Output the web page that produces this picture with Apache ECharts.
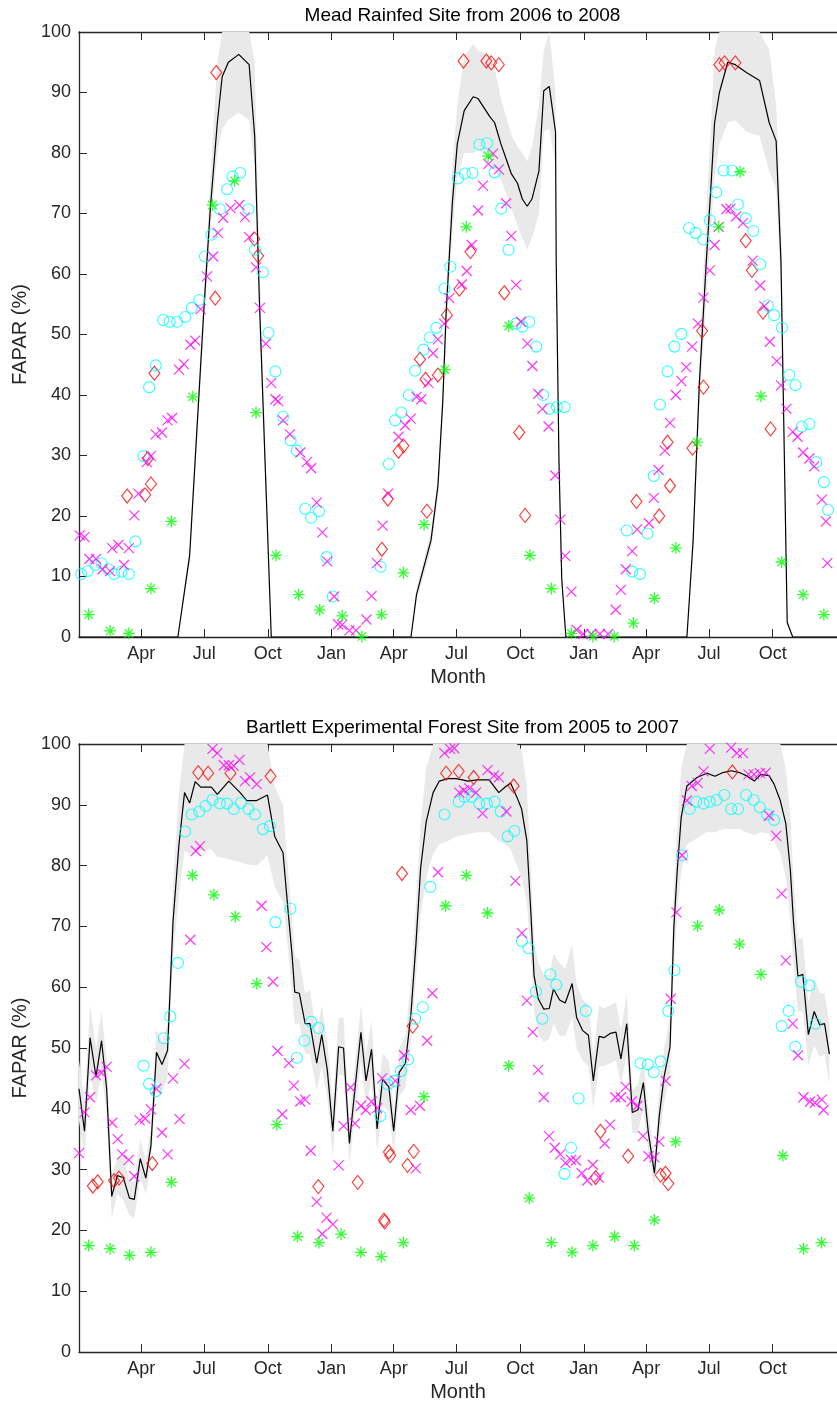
<!DOCTYPE html>
<html>
<head>
<meta charset="utf-8">
<script src="https://cdn.jsdelivr.net/npm/echarts@6/dist/echarts.min.js"></script>
<style>html,body{margin:0;padding:0;background:#fff}#c{width:837px;height:1404px}</style>
</head>
<body>
<div id="c"></div>
<script>
// ---- tick labels (day counted from Jan 1 of the first year) ----
const tickDays = [90, 181, 273, 365, 455, 546, 638, 730, 820, 911, 1003];
const tickLabels = ['Apr', 'Jul', 'Oct', 'Jan', 'Apr', 'Jul', 'Oct', 'Jan', 'Apr', 'Jul', 'Oct'];
const yTicks = [0, 10, 20, 30, 40, 50, 60, 70, 80, 90, 100];
const titles = ['Mead Rainfed Site from 2006 to 2008', 'Bartlett Experimental Forest Site from 2005 to 2007'];

// ---- Mead: black line and grey envelope ----
const meadLineDay = [0,143,160,181,190,200,207,216,231,246,254,261,271,278,
  480,488,509,519,526,531,535,540,547,557,570,577,594,601,610,625,634,641,648,655,665,672,680,689,690,694,698,704,
  879,888,897,907,914,919,926,938,949,965,984,998,1008,1015,1020,1024,1032,1096];
const meadLineVal = [0,0,13.5,55,71,85,92.6,95,96.3,94.6,82.8,55,22.7,0,
  0,7,16,25,39,54,62,72,81.5,87,89.3,89,86,85,81.5,76.6,75,72.4,71.2,72.4,77,90.3,91,83.5,62,29,9.6,0,
  0,16,42,62,75,85,90,95,94.6,93.3,92,85,82,62,29,2.4,0,0];
const meadBandLo = [0,0,12,52,67,80,84,85.5,86.7,85.4,78,52,20,0,
  0,6,14.5,23,36,50,58,67,76,80,80,80.5,79,77,75.6,71,68,66,64,66,70,83.5,84,78,58,27,8.5,0,
  0,14,38,56,68,76,81.5,85,85.4,83.5,82.8,77,74,58,27,2,0,0];
const meadBandHi = [0,0,15,58,76,95,100,100,100,100,95,62,26,0,
  0,8,17.5,27,42,58,67,78,88,96,98,97,96,94,89,83,81,80,78.6,81,88,97,100,90,68,32,11,0,
  0,18,46,70,85,97,100,100,100,100,100,97,88,70,32,3,0,0];

// ---- Mead: markers [day, FAPAR] ----
const meadDiamond = [[69.6,23.3],[95.7,23.5],[104,25.3],[99.5,29.5],[109,43.6],[198.5,93.3],[197,56],[253.5,65.8],[259,63],
  [438,14.5],[446.5,22.8],[462,30.7],[469,31.6],[493,45.9],[501,42.6],[519,43.3],[532,53.2],[550,57.5],[503,20.8],[556,95.2],
  [589,95.2],[596,94.9],[607,94.6],[566,63.7],[615,56.9],[636.5,33.8],[645,20.1],[806,22.4],
  [839,20],[854.5,25],[851,32.2],[887,31.2],[903,41.3],[901,50.6],[926,94.6],[933.5,94.9],[949,94.9],[964,65.5],[973,60.6],[989,53.7],[1000,34.4]];
const meadCircle = [[3.3,10.4],[12.7,10.9],[23.6,11.9],[32.6,12.2],[42.6,11.2],[50.7,10.4],[61.6,10.8],[72,10.4],[81.5,15.8],[93.3,29.9],[101.4,41.3],[111,44.9],[121.8,52.4],[131,52.1],[142,52.1],[153.5,52.9],[163,54.4],[174,55.7],[182,62.9],[191.4,66.5],[203.8,70.7],[214,74],[222,76.1],[233,76.7],[245,70.7],[254.5,64],[266,60.3],[274,50.3],[284,43.9],
  [295,36.4],[306,32.5],[315,30.8],[327,21.2],[335.6,19.7],[347,20.8],[358,13.2],[367,6.7],[436,11.6],[448,28.6],[457,35.8],[466,37.1],[477,40],[486,44],[498,47.5],[507,49.5],[516.6,51.1],[528.4,57.6],[537,61.2],[548,75.8],
  [558,76.6],[569,76.7],[579,81.4],[590,81.6],[601,76.8],[610.5,70.8],[621,64],[632,51.8],[641,51.3],[651,52.1],[661,48],[671,40],[680,37.7],[691,38],[702,38],
  [792,17.6],[800,10.8],[811,10.4],[822,17.1],[831,26.6],[840,38.4],[851,43.9],[861,48],[871,50.1],[882,67.6],[891.4,66.8],[903,65.7],[912,68.9],[921.5,73.5],[932,77.1],[944.5,77.1],[952.7,71.5],[964,69.2],[975,67.1],[985,61.6],[996,54.8],[1005,53.2],[1016.5,51.1],[1027,43.3],[1036,41.6],[1045,34.8],[1056,35.2],[1066,28.9],[1077,25.6],[1083,21]];
const meadCross = [[1,16.8],[8,16.5],[15,12.9],[24.6,12.9],[34,11.2],[45,10.9],[48,14.7],[57,15.2],[65,11.9],[72,14.7],[80,20.1],[86,23.7],[98,28.9],[104,29.9],[111,33.5],[120,33.8],[128,35.8],[134.6,36.2],[144.5,44.2],[151.6,45.1],[161,48.3],[168,49],[176,54.2],[185,59.6],[194,62.9],[201,66.8],[208.5,69.3],[219,70.9],[232,71.4],[240,69.4],[246,66.1],[256,61.1],[261.6,54.4],[270,48.5],[278,42],[284,39.3],
  [288,39],[295,35.8],[305,33.5],[320,30.5],[329.5,28.9],[335.6,27.9],[343.7,22.2],[352,17.3],[359,12.5],[369,6.7],[374.5,2.1],[380.6,2],[391,1.1],[400.5,1.1],[415.7,2.9],[423,6.8],[431,12.2],[439,18.4],[447,23.7],[462,33.1],[471.6,35],[479.6,36.1],[488,39.7],[495,39.3],[505,42],[512,46.9],[519,49.2],[528,51.8],[535.5,56],
  [553.6,58.3],[560.7,60.5],[568,64.8],[577,70.5],[584,74.6],[592,78.2],[598.7,79.9],[607,77.3],[617.6,71.7],[625,66.3],[632,58.2],[639,52.1],[648.4,48.5],[655.5,44.8],[664,40.2],[670,37.7],[679,34.8],[688.7,26.7],[696,19.4],[703,13.4],[712,7.5],[719.5,1.2],[729,0.5],[741,0.5],[753,0.5],[765,0.5],[776,4.5],[783.5,7.8],[790.6,11.2],[800,14.2],[807,17.8],[824,18.8],[831,23],
  [838,27.6],[847,30.8],[854.5,35.4],[863,40],[871,42.3],[878,44.6],[886.6,48],[895,51.8],[903,56.1],[912,60.6],[919,64.8],[925,67.8],[936,70.7],[942,70.8],[950,69.5],[960,68.4],[974,62.2],[985,58.1],[991,54.7],[999,48.8],[1009,45.6],[1015,41.6],[1023,37.7],[1032,33.9],[1039,33.1],[1047,30.5],[1056,29.5],[1063,28.2],[1074,22.7],[1080,19.1],[1082,12.2]];
const meadStar = [[14,3.7],[45,1],[72,0.6],[104,8],[133.6,19.1],[164.4,39.7],[193,71.4],[225,75.4],[256,37.1],[285,13.5],[317.6,7],[348,4.5],[380.6,3.5],[409,0.1],[437.5,3.7],[469,10.6],[499,18.6],[529,44.2],[560,67.8],[591.5,79.5],[621.4,51.4],[652,13.5],[683,8],[712,0.6],[743,0.1],[774,0.1],[801.5,2.3],[832,6.4],[863,14.7],[894,32.2],[925,67.8],[956,76.9],[986,39.8],[1016,12.4],[1047,7],[1077,3.7]];

// ---- Bartlett: black line and grey envelope ----
const bartLineDay = [0,8,16,24.6,32.6,40,47.3,55.4,64,73,80,88.6,96.6,104,112,120,128,136,144.5,152.6,160,168,176,191.4,200,216.6,233,242.6,257,272.5,283,295,302.5,308,312,318.6,327,334,343.7,351,359,367,375.4,382.5,391,399,407.6,415,423,431,439,448,455,463,472,480,487,494,502,512,521,533,545,554.5,562,576,593,607,617,624,633,640,647.5,653,658,664,672,680,686,695,703,713,719.5,728,736.6,743.7,752,759,768,776.4,783.5,792,800,808,816,823,832,839,846,854.6,860,865,870.7,879,893.5,907.7,919.5,931,943,955,964.6,976.4,986,997.7,1005,1014,1022,1028.6,1033,1039.5,1046.6,1054.6,1063,1071,1078,1085];
const bartLineVal = [43.3,36.3,51.7,45.3,51.2,43.3,25.6,29,28.7,25.3,25.1,31.8,28.6,33.9,49.3,47.3,49.6,70.9,83.4,92,90.3,93.8,92.9,92.9,91.7,93.9,92,90.7,90.7,91.6,84.8,82.1,72.3,65.4,59.2,59,54,54,47.5,52.2,46.4,36.3,50.2,50,34.3,43.3,52.6,44.6,49.8,36.7,44.8,43.6,36.3,46,47.5,55.7,66.8,79.6,87.2,92,93.9,94.3,94.3,94.1,93.9,94.1,94.1,92,93,93.6,91.3,89.3,84.1,73,61.9,58.1,56.4,56.5,59.7,57.9,57.4,60.6,55,52.9,52.1,44.6,51.9,51.7,52.4,52.6,48.2,54,39.4,39.8,44.3,36.3,29.4,38.8,45.3,50.2,69.6,79.2,87.9,93.1,94.5,95.2,94.7,95.3,95.6,95.3,94.8,93.9,95,94.8,93.4,90.7,86.9,79.2,70.9,61.8,62.1,52.2,56,53.8,54,49];
const bartBandLo = [38,32,46,41,46,39,22,26,25,22.5,22,28.5,26,31,45,43,45,65,75,82.4,82,82,82.5,82.7,81.5,81,80.6,80.2,80,81.7,76.5,74,66,59,54,54,49,49,43,47,42,32,45.5,45.5,31,39,48,40,45,33,40.5,39.5,33,42,43.5,51,61,72,78,82,83.5,84,84.8,85,85.2,85.5,85.5,84,83.5,82.7,80,78,74,66,56,52.5,51,51.5,54,52,52,55,50,48,47,40,47,47,47.5,48,44,49,36,36,40,33,27,35,41,45.5,63,72,79,83.5,84.5,85.5,85.5,86,86,86,85.5,85,85.5,85.3,84,82,78,71,64,56,56,47,50.5,48.5,49,44];
const bartBandHi = [48,41,57,50,56,48,29,32,32,28,28,35,31.5,37,53,51,54,77,92,100,100,100,100,100,100,100,100,100,100,100,93,90,79,72,65,64.5,59,59.5,52,57,51,41,55,55,38,47.5,57,49,54.5,40.5,49,48,40,50,52,61,73,87,96,100,100,100,100,100,100,100,100,100,100,100,100,99,93,80,68,64,62,62,65.5,64,63,67,60.5,58,57,49,57,56.5,57,57.5,53,59,43,44,48.5,40,32,43,50,55,76,86,96,100,100,100,100,100,100,100,100,100,100,100,100,100,96,88,78,68,68,57.5,61.5,59,59,54];

// ---- Bartlett: markers [day, FAPAR] ----
const bartDiamond = [[20,27.3],[27,28],[50.6,28.2],[57.8,28.6],[106,31],[172.5,95.3],[186.7,95.2],[219,95.2],[277,94.7],[346,27.2],[403,27.9],[441,21.7],[442,21.4],[448,32.9],[450,32.3],[475,30.7],[484,33],[482.5,53.6],[467,78.7],[530.8,95.2],[549,95.5],[570.7,94.5],[628.5,93.1],[754,36.3],[747,28.7],[794,32.2],[841,29.1],[848,29.4],[852,27.7],[944.7,95.4]];
const bartCircle = [[93.3,47.1],[101.4,44.1],[111,42.9],[122.7,51.6],[132,55.2],[143,64],[153.5,85.6],[163,88.4],[174,88.9],[183,89.8],[193,90.8],[203.8,90.2],[214,90.2],[223.7,89.3],[234,90.3],[245,89.3],[254.5,88.4],[266,86],[276,86.5],[284,70.7],[305.8,72.9],[315,48.4],[326,51.2],[335.6,54.3],[346,53.3],[436,38.8],[446.5,44],[456,44.6],[465.4,46.2],[476,48.1],[486,54.8],[497,56.7],[508,76.5],[528.4,88.4],[549,90.5],[557.4,91.3],[568,91.3],[578.8,90.2],[589.7,90.2],[601,90.5],[609.6,88.9],[620,84.8],[629.5,85.7],[640.4,67.6],[650,66.4],[660.7,59.3],[670,54.8],[681.6,62.1],[690,60.4],[702,29.3],[711.5,33.6],[722.4,41.7],[732.8,56.1],[812,47.5],[822.5,47.3],[831,46],[841,47.8],[852,56.1],[861,62.8],[872,81.7],[883,89.3],[892.5,90.5],[903,90.2],[912,90.5],[922,90.8],[933,91.6],[943,89.3],[953,89.3],[964.6,91.6],[975.5,90.8],[984.5,89.6],[995,88.4],[1005,87.5],[1016,53.6],[1026,56.1],[1035.7,50.2],[1044,60.9],[1056,60.3],[1065,54]];
const bartCross = [[0,32.7],[8,39.4],[16,41.9],[24.6,45.5],[32.6,45.9],[40,46.9],[48,37.7],[56,35],[62.5,32.5],[72,31.6],[80,28.9],[87.6,38.1],[95.7,38.4],[104,39.9],[112,43.3],[120,36.1],[128,32.5],[136,45],[145.5,38.3],[152.6,47.4],[161,67.8],[169,82.4],[175,83.2],[193,99.2],[200,98.5],[209.5,96.5],[216.6,96.5],[223.7,96.4],[232,97.4],[240,93.9],[247.4,94.5],[257,93.4],[264,73.4],[271,66.6],[280.5,60.9],[287,49.5],[294,39.1],[303.4,47.5],[310.5,43.8],[320,41.2],[327,41.5],[335,33.1],[343.7,24.7],[351.7,19.4],[358,22.1],[367,21],[375.4,30.7],[382.5,37.2],[392.5,43.5],[399,37.6],[407.6,40.5],[414.7,39.8],[423,41.2],[431,40.1],[438.4,45],[457.4,44.6],[470,48.8],[479.6,39.8],[487,30.2],[493,40.5],[503.3,51.2],[511,59],[519,78.9],[528.4,98.5],[536.5,99.2],[542.6,99.3],[550,92],[556.5,92.4],[564.5,92.7],[574,92],[583.5,88.6],[590.6,95.7],[600,94.8],[607,94.5],[618,88.9],[631,77.5],[640.4,68.9],[647.5,57.8],[656,52.6],[664,46.4],[672,41.9],[679.7,35.5],[687.8,33.6],[695.8,32.5],[703.4,31.1],[711.5,31.6],[718.6,31.5],[727,29.4],[735,28.2],[743,30.8],[751.6,28.7],[760,34.3],[768,37.4],[775.5,41.9],[783.5,41.9],[790.6,43.6],[799,41.2],[807.4,40.5],[815.5,35.5],[823.5,32.2],[832,32],[839,34.6],[848.4,44.6],[855.6,58.1],[863.6,72.3],[872,81.7],[879,90.7],[886,93.1],[894.5,93.6],[903,95.5],[912,99.2],[943,99.4],[951,98.5],[960,98.5],[968,95],[976,95],[984.5,95.2],[993,95.3],[997.7,88.2],[1008,84.9],[1016,75.4],[1022,64.4],[1032,54],[1039.5,48.8],[1047.6,41.9],[1057,41.2],[1064,41],[1074,41.5],[1076.5,39.8]];
const bartStar = [[14,17.5],[45,17],[73,15.9],[104,16.4],[133.6,27.9],[164,78.4],[195,75.2],[226,71.6],[257,60.6],[286,37.4],[316,19],[347,18],[379,19.4],[407.6,16.4],[437,15.7],[469,18],[498.6,42],[530,73.4],[560,78.4],[590.6,72.2],[621.4,47.1],[651,25.3],[683,18],[713,16.4],[743,17.5],[774.5,19],[803,17.5],[832,21.7],[862.6,34.6],[894.4,70.1],[925.7,72.7],[955,67.1],[986,62.1],[1017.7,32.3],[1047.6,17],[1073.6,18]];

// ---------------- chart ----------------
const FONT = '"Liberation Sans", Arial, Helvetica, sans-serif';
const AX = '#262626';
const GRID_LEFT = 79, GRID_W = 767;
const grids = [{left: GRID_LEFT, top: 32, width: GRID_W, height: 605}, {left: GRID_LEFT, top: 744, width: GRID_W, height: 608}];
const labelOf = {};
tickDays.forEach((d, i) => labelOf[d] = tickLabels[i]);

function xAxis(g, pos) {
  const bottom = pos === 'bottom';
  return {
    type: 'value', gridIndex: g, position: pos, min: 0, max: 1096,
    name: bottom ? 'Month' : '', nameLocation: 'middle', nameGap: 30,
    nameTextStyle: {fontFamily: FONT, fontSize: 20, color: AX},
    axisLine: {show: true, onZero: false, lineStyle: {color: AX, width: 1.3}},
    axisTick: {show: true, inside: true, length: 8, customValues: tickDays, lineStyle: {color: AX, width: 1}},
    axisLabel: {show: bottom, customValues: tickDays, margin: 8, fontFamily: FONT, fontSize: 18, color: AX,
      formatter: v => labelOf[Math.round(v)] || ''},
    splitLine: {show: false}
  };
}
function yAxis(g) {
  return {
    type: 'value', gridIndex: g, min: 0, max: 100, interval: 10,
    name: 'FAPAR (%)', nameLocation: 'middle', nameGap: 32, nameRotate: 90,
    nameTextStyle: {fontFamily: FONT, fontSize: 20, color: AX},
    axisLine: {show: true, lineStyle: {color: AX, width: 1.3}},
    axisTick: {show: true, inside: true, length: 8, lineStyle: {color: AX, width: 1}},
    axisLabel: {margin: 8, fontFamily: FONT, fontSize: 18, color: AX, customValues: yTicks},
    splitLine: {show: false}
  };
}

function bandSeries(axisIdx, days, lo, hi) {
  return {
    type: 'custom', xAxisIndex: axisIdx, yAxisIndex: axisIdx / 2, silent: true, z: 1,
    data: days.map((d, i) => [d, lo[i], hi[i]]),
    encode: {x: 0, y: [1, 2]},
    renderItem: function (params, api) {
      if (params.dataIndex !== 0) return null;
      const pts = [];
      for (let i = 0; i < days.length; i++) pts.push(api.coord([days[i], hi[i]]));
      for (let i = days.length - 1; i >= 0; i--) pts.push(api.coord([days[i], lo[i]]));
      return {type: 'polygon', shape: {points: pts}, style: {fill: '#e9e9e9', stroke: null}};
    }
  };
}
function lineSeries(axisIdx, days, vals) {
  return {type: 'line', xAxisIndex: axisIdx, yAxisIndex: axisIdx / 2, z: 3, silent: true,
    data: days.map((d, i) => [d, vals[i]]), symbol: 'none', lineStyle: {color: '#000', width: 1.2}, animation: false};
}
const X_PATH = 'path://M0,0L10,10M10,0L0,10';
const STAR_PATH = 'path://M5,0L5,10M0,5L10,5M1.5,1.5L8.5,8.5M8.5,1.5L1.5,8.5';
function markerSeries(axisIdx, data, symbol, size, color, bw) {
  return {type: 'scatter', xAxisIndex: axisIdx, yAxisIndex: axisIdx / 2, z: 4, silent: true,
    data: data, symbol: symbol, symbolSize: size,
    itemStyle: {color: 'rgba(0,0,0,0)', borderColor: color, borderWidth: bw}};
}
function panel(axisIdx, d) {
  return [
    bandSeries(axisIdx, d.lineDay, d.lo, d.hi),
    lineSeries(axisIdx, d.lineDay, d.lineVal),
    markerSeries(axisIdx, d.diamond, 'diamond', [11, 14], '#ff0000', 1.1),
    markerSeries(axisIdx, d.circle, 'circle', 11, '#00ffff', 1.1),
    markerSeries(axisIdx, d.cross, X_PATH, 10, '#ff00ff', 1.2),
    markerSeries(axisIdx, d.star, STAR_PATH, 12, '#00ff00', 1.3)
  ];
}

const chart = echarts.init(document.getElementById('c'), null, {renderer: 'canvas'});
chart.setOption({
  backgroundColor: '#ffffff',
  animation: false,
  grid: grids,
  xAxis: [xAxis(0, 'bottom'), xAxis(0, 'top'), xAxis(1, 'bottom'), xAxis(1, 'top')],
  yAxis: [yAxis(0), yAxis(1)],
  graphic: [
    {type: 'text', x: GRID_LEFT + GRID_W / 2, y: 16, style: {text: titles[0], font: '19px ' + FONT, fill: '#000', align: 'center', verticalAlign: 'middle'}},
    {type: 'text', x: GRID_LEFT + GRID_W / 2, y: 728, style: {text: titles[1], font: '19px ' + FONT, fill: '#000', align: 'center', verticalAlign: 'middle'}}
  ],
  series: [].concat(
    panel(0, {lineDay: meadLineDay, lineVal: meadLineVal, lo: meadBandLo, hi: meadBandHi, diamond: meadDiamond, circle: meadCircle, cross: meadCross, star: meadStar}),
    panel(2, {lineDay: bartLineDay, lineVal: bartLineVal, lo: bartBandLo, hi: bartBandHi, diamond: bartDiamond, circle: bartCircle, cross: bartCross, star: bartStar})
  )
});
</script>
</body>
</html>
